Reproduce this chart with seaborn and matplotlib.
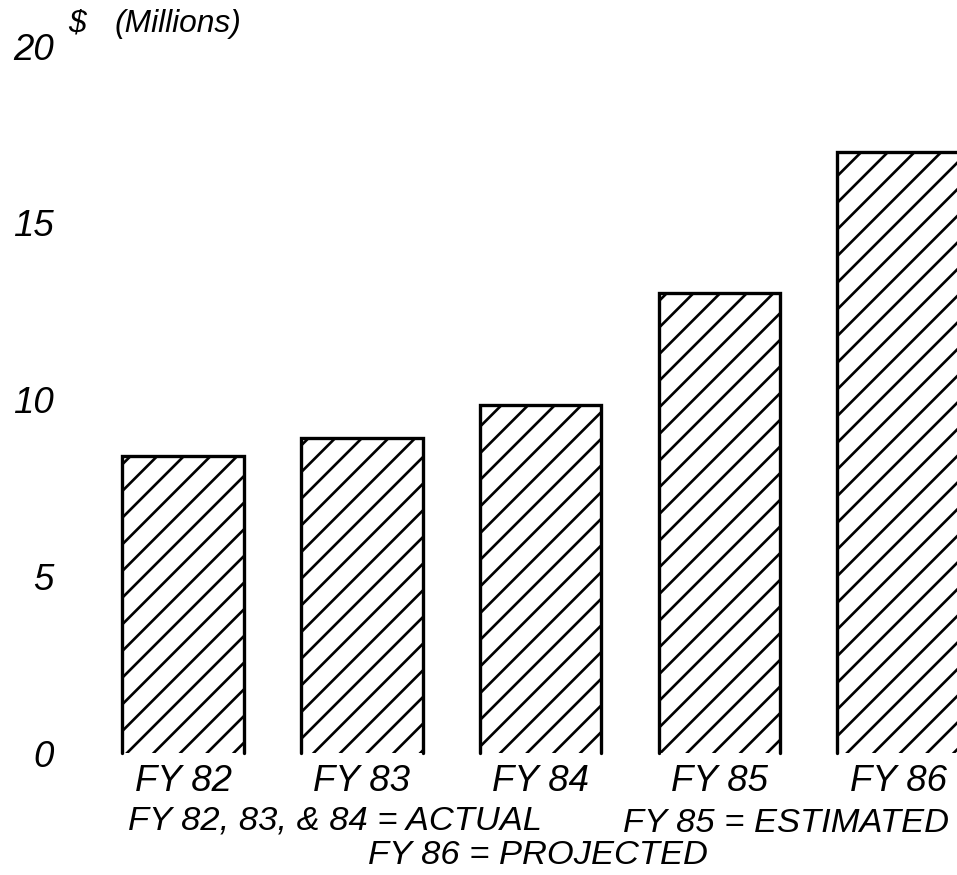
import matplotlib
matplotlib.use("Agg")
import matplotlib.pyplot as plt
import seaborn as sns
import pandas as pd

# Budget by fiscal year, $ millions
years = ["FY 82", "FY 83", "FY 84", "FY 85", "FY 86"]
amounts = [8.4, 8.9, 9.85, 13.0, 17.0]
y_ticks = [0, 5, 10, 15, 20]

sns.set_theme(style="white")
plt.rcParams["font.family"] = ["Liberation Sans", "DejaVu Sans"]
plt.rcParams["hatch.color"] = "black"
plt.rcParams["hatch.linewidth"] = 1.2
plt.rcParams["text.color"] = "black"

DPI = 160
FS = 16.5      # tick labels
FS_NOTE = 15.5  # footnote lines
fig = plt.figure(figsize=(957 / DPI, 875 / DPI), dpi=DPI)
ax = fig.add_axes([0.0606, 0.1394, 0.9394, 0.808])

df = pd.DataFrame({"year": years, "amount": amounts})
sns.barplot(data=df, x="year", y="amount", ax=ax, color="white",
            edgecolor="black", linewidth=0, hatch="//", width=0.68,
            saturation=1)

# outline each bar on three sides (open at the baseline)
for p in ax.patches:
    x0 = p.get_x()
    x1 = x0 + p.get_width()
    h = p.get_height()
    ax.plot([x0, x0, x1, x1], [0, h, h, 0], color="black", lw=1.5,
            solid_joinstyle="miter", clip_on=False, zorder=3)

ax.set_xlim(-0.7, 4.33)
ax.set_ylim(0, 20)
ax.set_yticks(y_ticks)
ax.set_yticklabels([str(t) for t in y_ticks])
ax.set_xlabel("")
ax.set_ylabel("")
for s in ax.spines.values():
    s.set_visible(False)
ax.tick_params(axis="both", length=0, labelcolor="black")
ax.tick_params(axis="y", pad=1.8, labelsize=FS)
ax.tick_params(axis="x", pad=5.0, labelsize=FS)
for lab in ax.get_xticklabels() + ax.get_yticklabels():
    lab.set_fontstyle("italic")

W, H = 957, 875
fig.text(77 / W, 1 - 24 / H, "$", fontsize=14.3, style="italic",
         ha="center", va="center")
fig.text(115 / W, 1 - 24 / H, "(Millions)", fontsize=14.3, style="italic",
         ha="left", va="center")

fig.text(335 / W, 1 - 821 / H, "FY 82, 83, & 84 = ACTUAL",
         fontsize=FS_NOTE, style="italic", ha="center", va="center")
fig.text(786 / W, 1 - 823 / H, "FY 85 = ESTIMATED",
         fontsize=FS_NOTE, style="italic", ha="center", va="center")
fig.text(538 / W, 1 - 855 / H, "FY 86 = PROJECTED",
         fontsize=FS_NOTE, style="italic", ha="center", va="center")

fig.savefig("out.png", dpi=DPI, facecolor="white")
